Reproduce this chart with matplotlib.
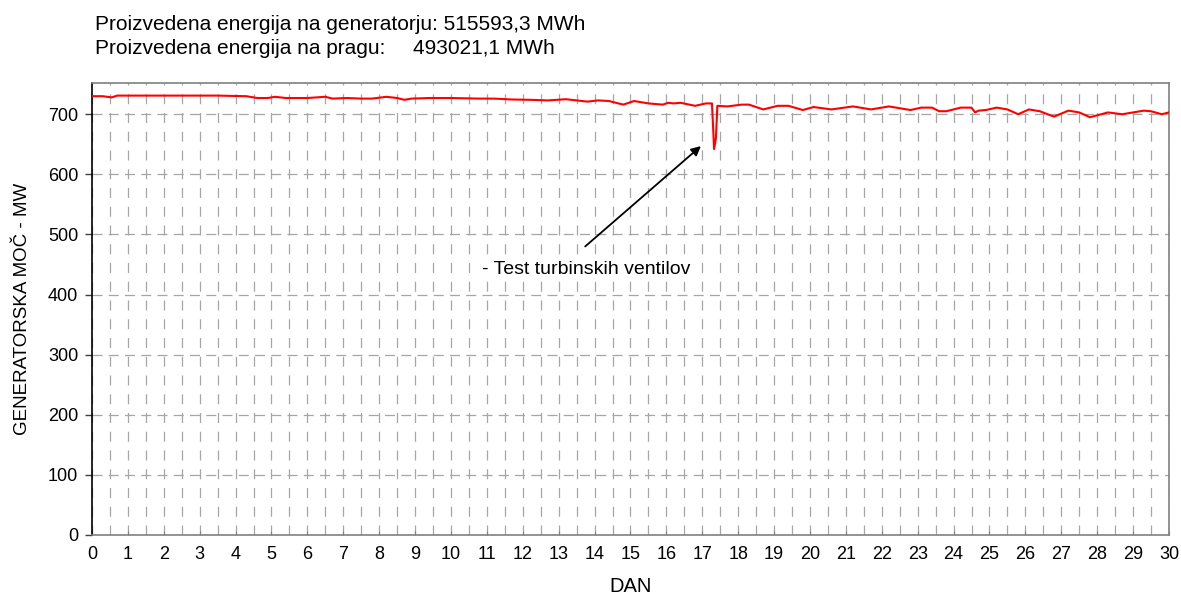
import matplotlib
matplotlib.use('Agg')
import matplotlib.pyplot as plt
import numpy as np

plt.rcParams['font.family'] = ['Liberation Sans', 'DejaVu Sans']

# generator power over the month (day, MW)
days = [0.0, 0.3, 0.55, 0.6, 0.7, 1.5, 2.5, 3.5, 4.3, 4.6, 4.9, 5.1, 5.4, 6.0,
        6.5, 6.7, 7.1, 7.5, 7.8, 8.2, 8.5, 8.7, 8.9, 9.4, 10.0, 10.8, 11.2,
        11.7, 12.2, 12.7, 13.2, 13.5, 13.8, 14.1, 14.4, 14.8, 15.1, 15.5,
        15.9, 16.05, 16.2, 16.4, 16.8, 17.1, 17.27, 17.33, 17.38, 17.42, 17.7,
        18.1, 18.3, 18.7, 19.1, 19.4, 19.8, 20.1, 20.6, 21.2, 21.7, 22.2,
        22.8, 23.1, 23.4, 23.6, 23.8, 24.2, 24.5, 24.6, 24.7, 24.9, 25.2,
        25.5, 25.8, 26.1, 26.4, 26.8, 27.2, 27.5, 27.8, 28.3, 28.7, 29.0,
        29.3, 29.5, 29.8, 30.0]
power = [730, 730, 728, 729, 731, 731, 731, 731, 730, 727, 727, 729, 727, 727,
         729, 726, 727, 726, 726, 729, 727, 724, 726, 727, 727, 726, 726,
         724.5, 724, 723, 725, 723, 721, 723, 722, 716, 722, 718,
         716, 719, 718, 719, 714, 718, 718, 642, 660, 714, 713,
         716, 716, 708, 714, 714, 707, 712, 708, 713, 708, 713,
         707, 711, 711, 705, 705, 711, 711, 703, 706, 707, 711,
         708, 700, 708, 705, 696, 706, 703, 695, 703, 700, 703,
         706, 705, 700, 703]

x_ticks = list(range(0, 31))
y_ticks = list(range(0, 701, 100))

header_line1 = 'Proizvedena energija na generatorju: 515593,3 MWh'
header_line2_label = 'Proizvedena energija na pragu:'
header_line2_value = '493021,1 MWh'

color_line = '#ff0000'
color_grid = '#a6a6a6'
color_frame = '#808080'

fig = plt.figure(figsize=(11.81, 5.97), dpi=100)
ax = fig.add_axes([0.0779, 0.1039, 0.9119, 0.7571])

ax.plot(days, power, color=color_line, linewidth=1.5, zorder=3,
        solid_joinstyle='round')

ax.set_xlim(0, 30)
ax.set_ylim(0, 752)
ax.set_xticks(x_ticks)
ax.set_xticklabels([str(t) for t in x_ticks], fontsize=13)
ax.set_xticks(np.arange(0.5, 30, 0.5), minor=True)
ax.set_yticks(y_ticks)
ax.set_yticklabels([str(t) for t in y_ticks], fontsize=13)

# dashed grid: every half day vertically, every 100 MW horizontally
ax.grid(True, which='both', axis='x', color=color_grid, linestyle=(0, (8, 7)),
        linewidth=0.9, zorder=1)
ax.grid(True, which='major', axis='y', color=color_grid, linestyle=(0, (8, 5)),
        linewidth=0.9, zorder=1)

ax.tick_params(axis='y', which='major', direction='out', length=5, width=1,
               color='#404040', pad=5)
ax.tick_params(axis='x', which='major', direction='in', length=3,
               color=color_frame, pad=8)
ax.tick_params(axis='x', which='minor', length=0)

ax.spines['left'].set_color('black')
ax.spines['left'].set_linewidth(1.2)
for side in ['top', 'right', 'bottom']:
    ax.spines[side].set_color(color_frame)
    ax.spines[side].set_linewidth(1.2)

ax.set_xlabel('DAN', fontsize=14.5, labelpad=10)
ax.set_ylabel('GENERATORSKA MOČ - MW', fontsize=13.5, labelpad=12)

# annotation for the turbine valve test dip
ax.annotate('', xy=(17.02, 650), xytext=(13.68, 477),
            arrowprops=dict(arrowstyle='-|>', color='black', lw=1.3,
                            mutation_scale=14))
ax.text(10.86, 441, '- Test turbinskih ventilov', fontsize=14,
        ha='left', va='center', zorder=4,
        bbox=dict(facecolor='white', edgecolor='none', pad=1))

# header
fig.text(95 / 1181, 1 - 24 / 597, header_line1, fontsize=15, va='center')
fig.text(95 / 1181, 1 - 48 / 597, header_line2_label, fontsize=15, va='center')
fig.text(413 / 1181, 1 - 48 / 597, header_line2_value, fontsize=15, va='center')

fig.savefig('out.png', dpi=100, facecolor='white')
plt.close(fig)
